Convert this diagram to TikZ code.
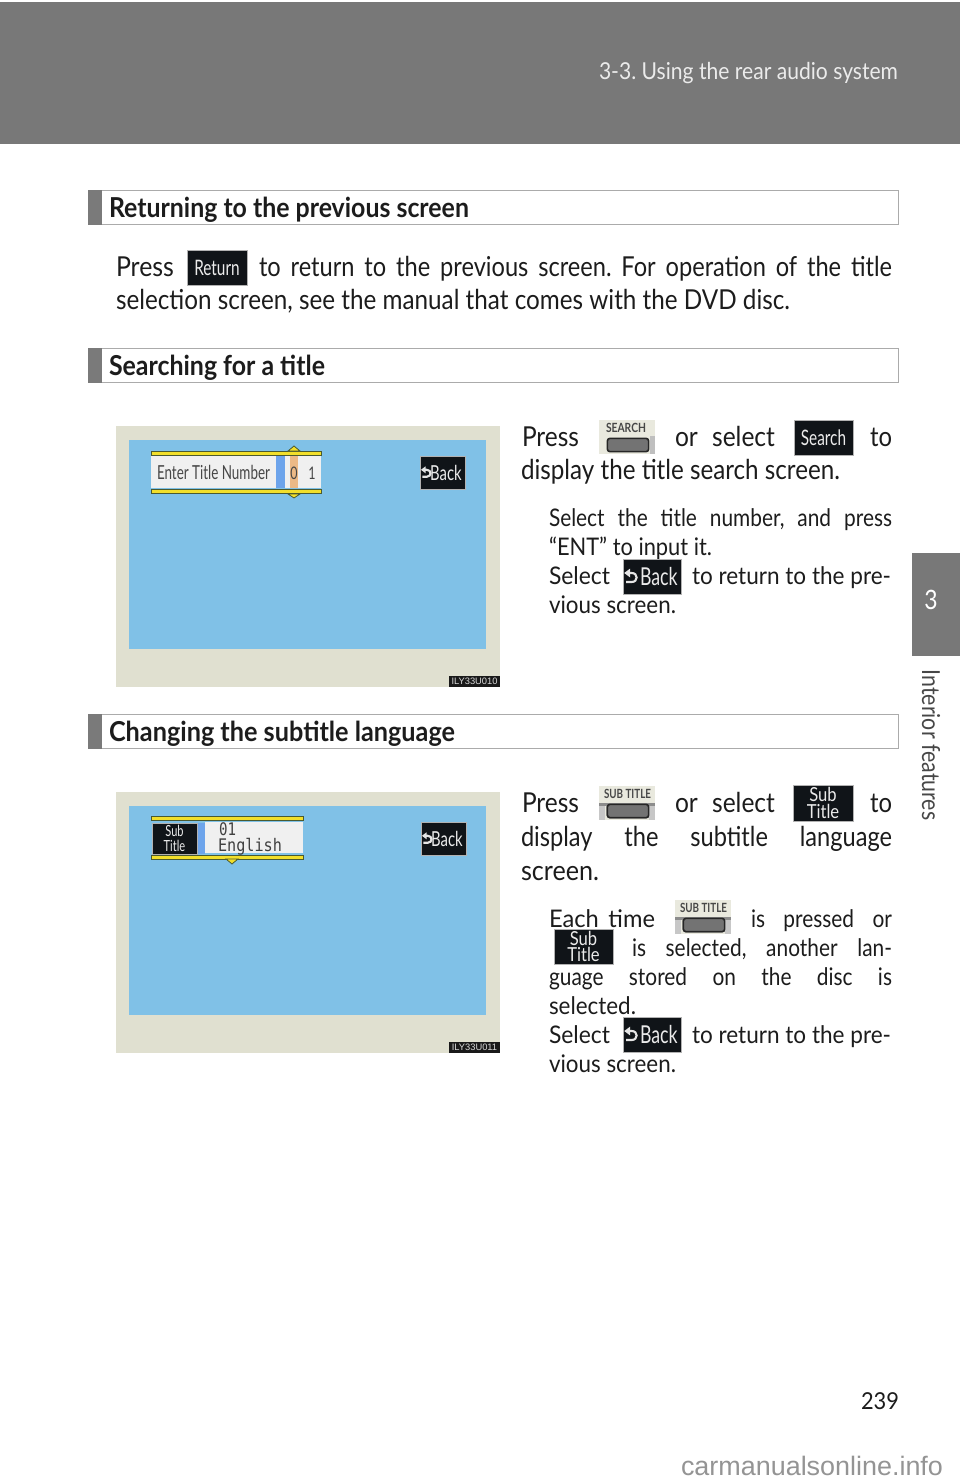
\documentclass[tikz,border=0pt]{standalone}
\usepackage{fontspec}
\usepackage{graphicx}
\setmainfont[FakeStretch=0.86]{Lato}
\newfontfamily\condf[FakeStretch=0.72]{Lato}
\newfontfamily\monof{DejaVu Sans Mono}
\newfontfamily\markf{Liberation Sans}
\definecolor{band}{HTML}{787878}
\definecolor{ink}{HTML}{1C1C1C}
\definecolor{frameg}{HTML}{E0E0D0}
\definecolor{scr}{HTML}{80C1E7}
\definecolor{darkb}{HTML}{101418}
\definecolor{yel}{HTML}{F2DF2A}
\definecolor{yeld}{HTML}{4A5A30}
\definecolor{rule}{HTML}{ABABAB}
\newsavebox\ftbox
\newcommand\fb{\fontsize{20.6}{24}\selectfont}
\newcommand\fs{\fontsize{18.2}{22}\selectfont}
\newcommand\fh{\fontsize{20.6}{24}\selectfont}
% fitted line: name x1 x2 baseline font text
\newcommand\ft[6]{%
  \node[txt] (#1) at (#2,#4) {\sbox\ftbox{\frenchspacing#5#6}%
    \pgfmathsetmacro\ftr{0.75*(#3-#2)/\the\wd\ftbox}%
    \scalebox{\ftr}[1]{\usebox\ftbox}};}
% justified line: spaces stretch
\newcommand\jt[6]{%
  \pgfmathsetlengthmacro\jw{0.75pt*(#3-#2)}%
  \node[txt] (#1) at (#2,#4) {\frenchspacing#5\makebox[\jw][s]{#6}};}
% dark button
\newcommand\dbtn[5]{%
  \node[darkbtn,minimum width={(#4-#2)*0.75pt},minimum height={(#5-#3)*0.75pt}] (#1) at ({(#2+#4)/2},{(#3+#5)/2}) {};}
\newcommand\backb[6]{% name x0 y0 x1 y1 size
  \dbtn{#1}{#2}{#3}{#4}{#5}
  \node[btntxt,anchor=east,font=\condf\fontsize{#6}{#6}\selectfont] (#1t) at ([xshift=-2.5pt]#1.east) {Back};
  \begin{scope}[shift={(#1.west)},scale={(#4-#2)/58}]
    \fill[white!90!black] (1.5,-3.5) -- (7.5,-8) -- (7.5,1) -- cycle;
    \draw[white!90!black,line width=1.6pt] (6,-3.5) -- (9,-3.5) .. controls (15.5,-3.5) and (15.5,5.5) .. (9,5.5) -- (3.5,5.5);
  \end{scope}}
\newcommand\subb[6]{% name x0 y0 x1 y1 size
  \dbtn{#1}{#2}{#3}{#4}{#5}
  \node[btntxt,align=center,font=\fontsize{#6}{12.4}\selectfont] (#1t) at (#1.center) {Sub\\Title};}
% hardware button: name x0 y0 label x1 x2
\newcommand\hwb[6]{%
  \node[hwbg] (#1) at ({#2+28},{#3+17}) {};
  \node[hwkey] (#1k) at ({#2+29},{#3+25}) {};
  \ft{#1t}{#5}{#6}{#3+12}{\condf\bfseries\fontsize{9.5}{10}\selectfont\color{black!72}}{#4}}
\newcommand\hwrule[2]{%
  \fill[black!45] (#1,{#2+16.5}) rectangle ({#1+56},{#2+19.5});
  \fill[black!22] (#1,{#2+19.5}) rectangle ({#1+6},{#2+34});
  \fill[black!22] ({#1+50},{#2+19.5}) rectangle ({#1+56},{#2+34});}
\tikzset{
  txt/.style={anchor=base west,inner sep=0pt,outer sep=0pt,text=ink},
  darkbtn/.style={fill=darkb,draw=black!30,line width=0.4pt,inner sep=0pt},
  btntxt/.style={inner sep=0pt,text=white!92!black},
  hwbg/.style={fill=frameg!70!white,draw=none,minimum width=42pt,minimum height=25.5pt,inner sep=0pt},
  hwkey/.style={draw=black!85,fill=black!55,line width=1.2pt,rounded corners=2pt,minimum width=31pt,minimum height=10pt,inner sep=0pt},
  headbox/.style={draw=rule,line width=0.75pt,fill=white,minimum width=608pt,minimum height=26pt,inner sep=0pt},
  headbar/.style={fill=black!52,minimum width=10.5pt,minimum height=26pt,inner sep=0pt},
  frameb/.style={fill=frameg,inner sep=0pt,minimum width=288pt,minimum height=196pt},
  screenb/.style={fill=scr,inner sep=0pt,minimum width=268pt,minimum height=157pt},
  ybar/.style={fill=yel,draw=yeld,line width=0.6pt,inner sep=0pt,minimum height=3pt},
  ytri/.style={fill=yel,draw=yeld,line width=0.6pt},
  panel/.style={fill=white!94!black,inner sep=0pt},
  codeb/.style={fill=black!90,inner sep=0pt,minimum width=38pt,minimum height=8.2pt,text=white!85!black,font=\markf\fontsize{7}{7}\selectfont},
}
\begin{document}
\begin{tikzpicture}[x=0.75pt,y=-0.75pt]
\useasboundingbox (0,0) rectangle (960,1484);
\fill[white] (0,0) rectangle (960,1484);
% top band and tab
\fill[band] (0,2) rectangle (960,144);
\ft{chap}{599}{898}{80}{\fontsize{17.5}{20}\selectfont\color{white!92!black}}{3-3. Using the rear audio system}
\fill[band] (912,553) rectangle (960,656);
\node[inner sep=0pt,text=white,font=\fontsize{20}{22}\selectfont] (tabn) at (931,600) {3};
\node[inner sep=0pt,text=black!72,rotate=-90,font=\fontsize{18.6}{20}\selectfont] (tabt) at (931,745) {Interior features};
% section heads
\foreach \n/\cy in {a/207.5,b/365.5,c/731.5}{
  \node[headbox] (head\n) at (493.5,\cy) {};
  \node[headbar] (bar\n) at (95,\cy) {};
}
\ft{ha}{109}{469}{217}{\fh\bfseries}{Returning to the previous screen}
\ft{hb}{109}{325}{375}{\fh\bfseries}{Searching for a title}
\ft{hc}{109}{455}{741}{\fh\bfseries}{Changing the subtitle language}
% section 1
\ft{p1}{116}{174}{276}{\fb}{Press}
\dbtn{ret}{187}{250}{247}{285}
\node[btntxt,font=\condf\fontsize{16}{16}\selectfont] (rett) at (ret.center) {Return};
\jt{p1b}{259}{892}{276}{\fb}{to return to the previous screen. For operation of the title}
\ft{p1c}{116}{790}{309}{\fb}{selection screen, see the manual that comes with the DVD disc.}
% screen 1
\node[frameb] (f1) at (308,556.5) {};
\node[screenb] (s1) at (307.5,544.5) {};
\node[ybar,minimum width=127.5pt] (y1a) at (236,453) {};
\node[ybar,minimum width=127.5pt] (y1b) at (236,491.5) {};
\node[panel,minimum width=94pt,minimum height=24pt] (p1a) at (213.5,472) {};
\fill[scr!85!blue] (276,456) rectangle (285,488);
\fill[white!94!black] (285,456) rectangle (321,488);
\fill[orange!45!brown!55!white] (290,456) rectangle (298,488);
\draw[ytri] (288,451) -- (294,446) -- (300,451) -- cycle;
\draw[ytri] (288,494) -- (294,498) -- (300,494) -- cycle;
\ft{etn}{157}{270}{479}{\condf\fontsize{14.5}{16}\selectfont\color{black!72}}{Enter Title Number}
\node[inner sep=0pt,text=black!72,font=\condf\fontsize{13}{14}\selectfont] (d0) at (294,473) {0};
\node[inner sep=0pt,text=black!72,font=\condf\fontsize{13}{14}\selectfont] (d1) at (312,473) {1};
\backb{bk1}{420}{456}{465}{489}{15.5}
\node[codeb] (c1) at (474.5,681.5) {ILY33U010};
% section 2 text
\ft{p2}{522}{579}{446}{\fb}{Press}
\hwb{hw1}{599}{420}{SEARCH}{606}{646}
\fill[black!25] (650,436) rectangle (655,454);
\ft{p2b}{675}{775}{446}{\fb}{or\hspace{.5em}select}
\dbtn{srch}{794}{420}{853}{455}
\node[btntxt,font=\condf\fontsize{16}{16}\selectfont] (srcht) at (srch.center) {Search};
\ft{p2c}{870}{892}{446}{\fb}{to}
\ft{p2d}{521}{840}{479}{\fb}{display the title search screen.}
\jt{q1}{549}{892}{526}{\fs}{Select the title number, and press}
\ft{q2}{549}{712}{555}{\fs}{“ENT” to input it.}
\ft{q3}{549}{610}{584}{\fs}{Select}
\backb{bk2}{623}{559}{681}{594}{18.5}
\ft{q3b}{692}{891}{584}{\fs}{to return to the pre-}
\ft{q4}{549}{676}{613}{\fs}{vious screen.}
% screen 2
\node[frameb] (f2) at (308,922.5) {};
\node[screenb] (s2) at (307.5,910.5) {};
\node[ybar,minimum width=114pt] (y2a) at (227,818.5) {};
\node[ybar,minimum width=114pt] (y2b) at (227,857) {};
\fill[scr!85!blue] (197,823) rectangle (205,854);
\node[panel,minimum width=73.5pt,minimum height=23pt] (p2a) at (254,837.5) {};
\dbtn{st}{152}{823}{197}{854}
\node[btntxt,align=center,font=\condf\fontsize{11.5}{11}\selectfont] (stt) at (st.center) {Sub\\Title};
\draw[ytri] (226,859) -- (232,864) -- (238,859) -- cycle;
\ft{n01}{219}{236}{835}{\monof\fontsize{13}{14}\selectfont\color{black!75}}{01}
\ft{eng}{218}{282}{851}{\monof\fontsize{13}{14}\selectfont\color{black!75}}{English}
\backb{bk3}{421}{822}{466}{855}{15.5}
\node[codeb] (c2) at (474.5,1047.5) {ILY33U011};
% section 3 text
\ft{r1}{522}{579}{812}{\fb}{Press}
\hwb{hw2}{599}{786}{SUB TITLE}{604}{651}
\hwrule{599}{786}
\node[hwkey] (hw2m) at (628,811) {};
\ft{r1b}{675}{775}{812}{\fb}{or\hspace{.5em}select}
\subb{sb1}{793}{785}{853}{821}{14.5}
\ft{r1c}{870}{892}{812}{\fb}{to}
\jt{r2}{521}{892}{846}{\fb}{display the subtitle language}
\ft{r3}{521}{599}{880}{\fb}{screen.}
\ft{t1}{549}{655}{927}{\fs}{Each\hspace{.35em}time}
\hwb{hw3}{675}{900}{SUB TITLE}{680}{727}
\hwrule{675}{900}
\node[hwkey] (hw3m) at (704,925) {};
\jt{t1b}{751}{892}{927}{\fs}{is pressed or}
\subb{sb2}{554}{929}{613}{964}{14.5}
\jt{t2}{632}{892}{956}{\fs}{is selected, another lan-}
\jt{t3}{549}{892}{985}{\fs}{guage stored on the disc is}
\ft{t4}{549}{636}{1014}{\fs}{selected.}
\ft{t5}{549}{610}{1043}{\fs}{Select}
\backb{bk4}{623}{1017}{681}{1052}{18.5}
\ft{t5b}{692}{891}{1043}{\fs}{to return to the pre-}
\ft{t6}{549}{676}{1072}{\fs}{vious screen.}
% page number, footer
\ft{pg}{861}{899}{1409}{\fontsize{17.5}{20}\selectfont}{239}
\ft{wm}{681}{943}{1475}{\markf\fontsize{20}{22}\selectfont\color{black!42}}{carmanualsonline.info}
\end{tikzpicture}
\end{document}
